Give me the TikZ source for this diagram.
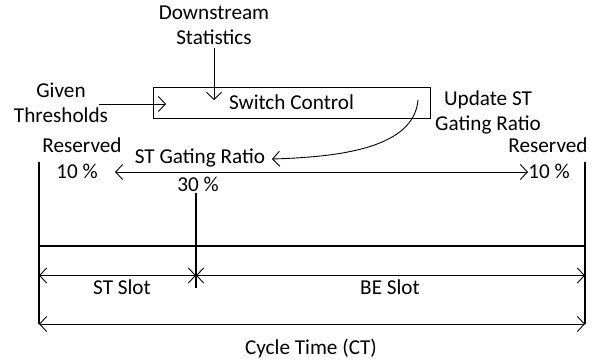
\documentclass[tikz,border=0pt]{standalone}
\usepackage{fontspec}
\setmainfont{Carlito}
\usetikzlibrary{arrows.meta}
\begin{document}
\begin{tikzpicture}[x=1pt,y=-1pt,
  lbl/.style={inner sep=0pt,align=center,font=\fontsize{21.2}{25}\selectfont},
  thin/.style={line width=0.9pt},
  thk/.style={line width=2pt},
  tip/.style={-{Straight Barb[length=7pt,width=15pt,line width=0.9pt]}},
  tips/.style={{Straight Barb[length=7pt,width=15pt,line width=0.9pt]}-{Straight Barb[length=7pt,width=15pt,line width=0.9pt]}}]
\useasboundingbox (0,0) rectangle (600,361);
% texts
\node[lbl] (ds) at (214,25) {Downstream\\Statistics};
\node[lbl] (gt) at (61,103) {Given\\Thresholds};
\node[lbl] (up) at (488,112) {Update ST\\Gating Ratio};
\node[draw,thin,minimum width=277pt,minimum height=31pt,inner sep=0pt,
      font=\fontsize{21.2}{25}\selectfont] (box) at (291.5,102.5) {Switch Control};
\node[lbl] (stg) at (200,158) {ST Gating Ratio};
\node[lbl] (resL) at (82,145) {Reserved};
\node[lbl] (tenL) at (77,171) {10 \%};
\node[lbl] (resR) at (548,145) {Reserved};
\node[lbl] (tenR) at (549,171) {10 \%};
\node[lbl] (thirty) at (198,184) {30 \%};
\node[lbl] (stslot) at (122,287) {ST Slot};
\node[lbl] (beslot) at (390,287) {BE Slot};
\node[lbl] (ct) at (311,348) {Cycle Time (CT)};
% coordinates
\coordinate (gs) at (99,104); \coordinate (ge) at (166,104);
\coordinate (dsS) at (214,48); \coordinate (dsE) at (214,100);
\coordinate (cS) at (418,100); \coordinate (cE) at (272,159);
\coordinate (tS) at (115,172); \coordinate (tE) at (528,172);
\coordinate (LT) at (39,162); \coordinate (LB) at (39,324);
\coordinate (RT) at (585,162); \coordinate (RB) at (585,324);
\coordinate (HL) at (39,245.5); \coordinate (HR) at (585,245.5);
\coordinate (MT) at (196,193); \coordinate (MB) at (196,288);
\coordinate (SL) at (39,275.5); \coordinate (SM) at (196,275.5); \coordinate (SR) at (585,275.5);
\coordinate (CL) at (39,324); \coordinate (CR) at (585,324);
% connectors
\draw[thin,tip] (gs) -- (ge);
\draw[thin,tip] (dsS) -- (dsE);
\draw[thin,tip] (cS) .. controls (414,148) and (340,157) .. (cE);
\draw[thin,tips] (tS) -- (tE);
\draw[thk] (LT) -- (LB);
\draw[thk] (RT) -- (RB);
\draw[thk] (HL) -- (HR);
\draw[thk] (MT) -- (MB);
\draw[thin,tips] (SL) -- (SM);
\draw[thin,tips] (SM) -- (SR);
\draw[thin,tips] (CL) -- (CR);
\end{tikzpicture}
\end{document}
